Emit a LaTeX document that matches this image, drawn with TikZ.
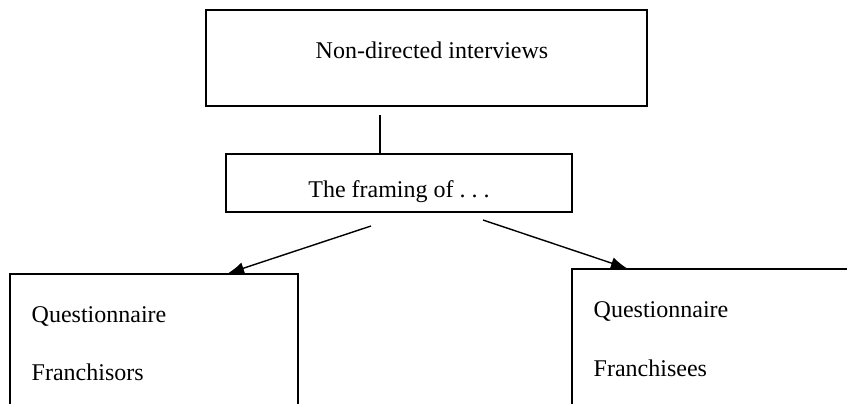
\documentclass[tikz,border=0pt]{standalone}
\usepackage{fontspec}
\setmainfont{Liberation Serif}
\usetikzlibrary{arrows.meta}

\begin{document}
\begin{tikzpicture}[x = 0.5pt, y = -0.5pt, font = \fontsize{12}{14}\selectfont, line width = 0.7pt,
  box/.style = {draw, inner sep = 0pt},
  txt/.style = {inner sep = 0pt},
  link/.style = {-{Latex[length = 8pt, width = 6pt]}}]
\useasboundingbox (0,0) rectangle (847,403);
\clip (0,0) rectangle (847,403);
% boxes
\node [box, minimum width = 220.5pt, minimum height = 48pt] (interviews) at (426.5,58) {};
\node [box, minimum width = 173pt, minimum height = 29pt] (framing) at (399,183) {};
\node [box, minimum width = 144pt, minimum height = 73pt] (franchisors) at (154,347) {};
\node [box, minimum width = 149pt, minimum height = 75.5pt] (franchisees) at (721,344.5) {};
% texts
\node [txt, anchor = base] (interviewstext) at (432,58) {Non-directed interviews};
\node [txt, anchor = base] (framingtext) at (399,197) {The framing of .~.~.};
\node [txt, anchor = base west] (lquest) at (31,322) {Questionnaire};
\node [txt, anchor = base west] (lfran) at (31,380) {Franchisors};
\node [txt, anchor = base west] (rquest) at (593,317) {Questionnaire};
\node [txt, anchor = base west] (rfran) at (593,376) {Franchisees};
% connectors
\coordinate (linktop) at (380,115);
\coordinate (leftstart) at (371,226);
\coordinate (rightstart) at (483,220);
\coordinate (leftend) at (228,0 |- franchisors.north);
\coordinate (rightend) at (627,0 |- franchisees.north);
\draw (linktop) -- (linktop |- framing.north);
\draw [link] (leftstart) -- (leftend);
\draw [link] (rightstart) -- (rightend);
\end{tikzpicture}
\end{document}
